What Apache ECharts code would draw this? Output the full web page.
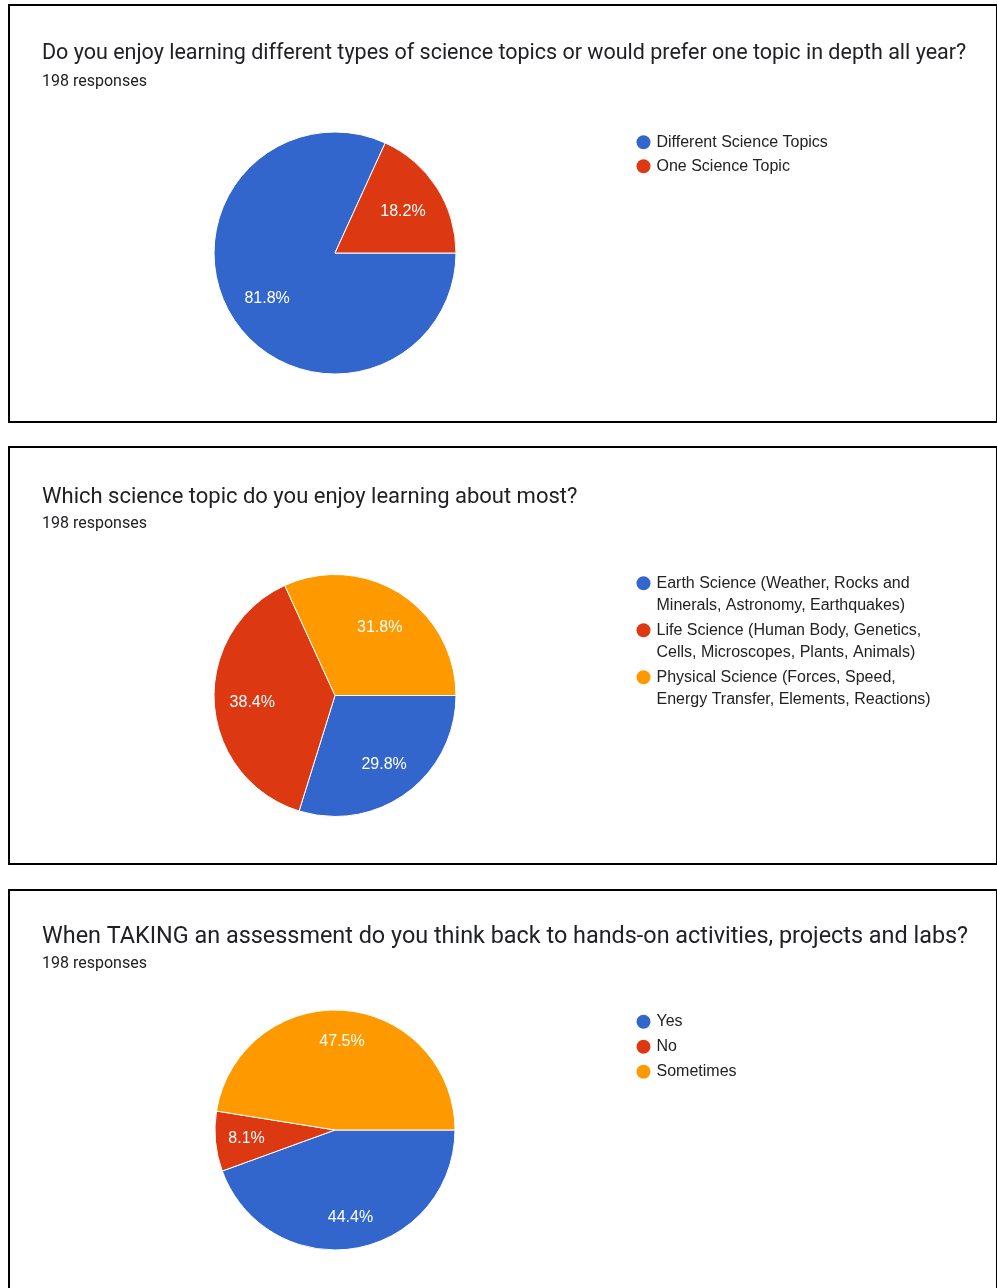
<!DOCTYPE html>
<html><head><meta charset="utf-8">
<script src="https://cdn.jsdelivr.net/npm/echarts@6/dist/echarts.min.js"></script>
<style>
html,body{margin:0;padding:0;background:#fff;width:997px;height:1288px;overflow:hidden;}
.panel{position:absolute;left:8px;width:990px;height:419px;box-sizing:border-box;border:2px solid #000;background:#fff;}
.chart{width:100%;height:100%;}
</style></head><body>
<div class="panel" style="top:4px"><div id="c1" class="chart"></div></div>
<div class="panel" style="top:446px"><div id="c2" class="chart"></div></div>
<div class="panel" style="top:889px"><div id="c3" class="chart"></div></div>
<script>
// ---- data ----
const responsesText = "198 responses";
const sliceColors = ["#3366cc", "#dc3912", "#ff9900"];

const q1Title = "Do you enjoy learning different types of science topics or would prefer one topic in depth all year?";
const q1Categories = ["Different Science Topics", "One Science Topic"];
const q1Values = [162, 36];

const q2Title = "Which science topic do you enjoy learning about most?";
const q2LegendLines = [
  ["Earth Science (Weather, Rocks and", "Minerals, Astronomy, Earthquakes)"],
  ["Life Science (Human Body, Genetics,", "Cells, Microscopes, Plants, Animals)"],
  ["Physical Science (Forces, Speed,", "Energy Transfer, Elements, Reactions)"]
];
const q2Categories = q2LegendLines.map(l => l.join(" "));
const q2Values = [59, 76, 63];

const q3Title = "When TAKING an assessment do you think back to hands-on activities, projects and labs?";
const q3Categories = ["Yes", "No", "Sometimes"];
const q3Values = [88, 16, 94];

// ---- builder ----
function buildOption(title, cats, values, cfg) {
  const data = cats.map((c, i) => ({ name: c, value: values[i], itemStyle: { color: sliceColors[i] } }));
  return {
    animation: false,
    title: [
      { text: title, left: 32, top: cfg.titleTop, padding: 0,
        textStyle: { fontFamily: "Roboto, sans-serif", fontSize: cfg.titleSize, fontWeight: 400, color: "#202124", lineHeight: cfg.titleSize } },
      { text: responsesText, left: 32, top: cfg.subTop, padding: 0,
        textStyle: { fontFamily: "Roboto, sans-serif", fontSize: 16, fontWeight: 400, color: "#202124", lineHeight: 16 } }
    ],
    legend: {
      orient: "vertical", left: 624.5, top: cfg.legendTop, padding: 0,
      itemWidth: 16, itemHeight: 16, itemGap: cfg.itemGap, icon: "circle",
      selectedMode: false, data: cats,
      textStyle: { fontFamily: "'Liberation Sans', Arial, sans-serif", fontSize: 16, color: "#222", lineHeight: cfg.lineHeight },
      formatter: cfg.formatter || (n => n)
    },
    series: [
      { type: "pie", center: [325, cfg.cy], radius: cfg.r, startAngle: 0, clockwise: true,
        percentPrecision: 1, data: data, label: { show: false }, labelLine: { show: false },
        itemStyle: { borderColor: "#fff", borderWidth: 1 }, emphasis: { disabled: true } },
      { type: "pie", center: [325, cfg.cy], radius: [cfg.r * cfg.labelRatio, cfg.r], startAngle: 0, clockwise: true,
        percentPrecision: 1, silent: true,
        data: cats.map((c, i) => ({ name: c, value: values[i] })),
        itemStyle: { color: "rgba(0,0,0,0)", borderWidth: 0 },
        labelLine: { show: false }, emphasis: { disabled: true },
        label: { show: true, position: "inside", formatter: "{d}%", color: "#fff", offset: [0, cfg.labelDy],
          fontFamily: "'Liberation Sans', Arial, sans-serif", fontSize: 16 } }
    ]
  };
}

const c1 = echarts.init(document.getElementById("c1"));
c1.setOption(buildOption(q1Title, q1Categories, q1Values,
  { titleSize: 21.5, titleTop: 37.25, subTop: 67.5,
    cy: 247, r: 121, labelRatio: 0.285, labelDy: 2, legendTop: 127.3, itemGap: 6, lineHeight: 16 }));

const c2 = echarts.init(document.getElementById("c2"));
c2.setOption(buildOption(q2Title, q2Categories, q2Values,
  { titleSize: 22, titleTop: 38, subTop: 68,
    cy: 247.5, r: 121, labelRatio: 0.32, labelDy: 2, legendTop: 102.3, itemGap: -19, lineHeight: 22,
    formatter: n => "\n" + q2LegendLines[q2Categories.indexOf(n)].join("\n") }));

const c3 = echarts.init(document.getElementById("c3"));
c3.setOption(buildOption(q3Title, q3Categories, q3Values,
  { titleSize: 23.4, titleTop: 34.3, subTop: 65,
    cy: 239, r: 120, labelRatio: 0.43, labelDy: 0, legendTop: 121.7, itemGap: 7, lineHeight: 16 }));
</script>
</body></html>
